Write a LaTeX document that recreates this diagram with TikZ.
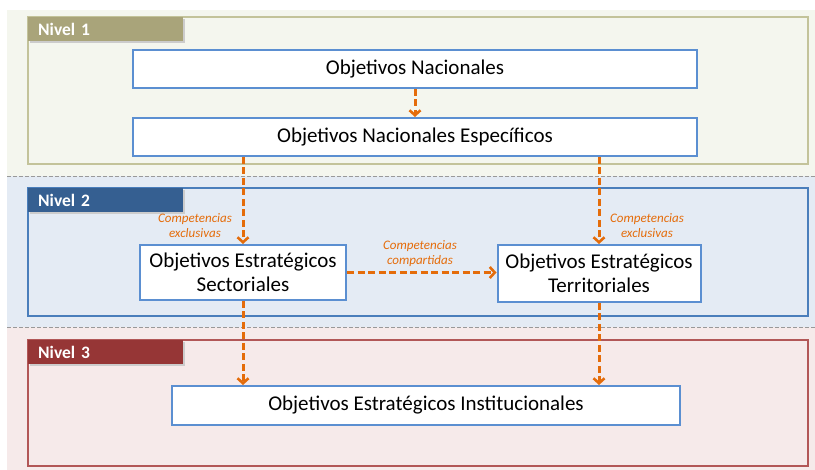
\documentclass[tikz,border=0pt]{standalone}
\usepackage{fontspec}
\setmainfont{Carlito}
\usetikzlibrary{arrows.meta}
\definecolor{bgone}{HTML}{F4F6EE}
\definecolor{bgtwo}{HTML}{E4EBF4}
\definecolor{bgthree}{HTML}{F6EAEA}
\definecolor{frone}{HTML}{C3C39A}
\definecolor{frtwo}{HTML}{4A7EBB}
\definecolor{frthree}{HTML}{B25757}
\definecolor{tabone}{HTML}{A9A47A}
\definecolor{tabtwo}{HTML}{355F91}
\definecolor{tabthree}{HTML}{963636}
\definecolor{boxblue}{HTML}{5B8FD1}
\definecolor{arrorange}{HTML}{E46C0A}
\tikzset{
  objbox/.style={draw=boxblue, line width=2pt, fill=white, font=\fontsize{21}{24}\selectfont, align=center, inner sep=0pt},
  tabbox/.style={anchor=north west, minimum width=155pt, minimum height=24pt, inner sep=0pt, text=white, font=\bfseries\fontsize{17.5}{19}\selectfont, text width=135pt, align=left},
  frame/.style={line width=1.4pt},
  flow/.style={draw=arrorange, line width=3pt, dash pattern=on 7pt off 3.5pt, -{Straight Barb[length=5pt,width=11pt,line width=2.6pt]}},
  comp/.style={text=arrorange, font=\itshape\fontsize{13}{15}\selectfont, align=center, inner sep=0pt},
  sep/.style={draw=gray!80, line width=0.8pt, dash pattern=on 4pt off 2pt}
}
\begin{document}
\begin{tikzpicture}[x=1pt,y=-1pt]
\useasboundingbox (0,0) rectangle (815,470);
\fill[white] (0,0) rectangle (815,470);
% bands
\fill[bgone] (7,10) rectangle (815,176);
\fill[bgtwo] (7,176) rectangle (815,327);
\fill[bgthree] (7,327) rectangle (815,470);
\draw[sep] (7,176) -- (815,176);
\draw[sep] (7,327) -- (815,327);
% frames
\draw[frame, draw=frone] (28,17) rectangle (808,164);
\draw[frame, draw=frtwo] (28,188) rectangle (808,316);
\draw[frame, draw=frthree] (28,340) rectangle (808,466);
% tabs
\fill[black!20] (30,19) rectangle (185,43);
\node[tabbox, fill=tabone] (t1) at (28,17) {Nivel 1};
\fill[black!20] (30,190) rectangle (185,214);
\node[tabbox, fill=tabtwo] (t2) at (28,188) {Nivel 2};
\fill[black!20] (30,342) rectangle (185,366);
\node[tabbox, fill=tabthree] (t3) at (28,340) {Nivel 3};
% boxes
\node[objbox, minimum width=564pt, minimum height=38pt] (on) at (415,69) {Objetivos Nacionales};
\node[objbox, minimum width=564pt, minimum height=38pt] (one) at (415,137) {Objetivos Nacionales Específicos};
\node[objbox, minimum width=206pt, minimum height=55pt] (sec) at (243,272.5) {Objetivos Estratégicos\\Sectoriales};
\node[objbox, minimum width=203pt, minimum height=57pt] (ter) at (599,273.5) {Objetivos Estratégicos\\Territoriales};
\node[objbox, minimum width=508pt, minimum height=39pt] (ins) at (426,405.5) {Objetivos Estratégicos Institucionales};
% arrows
\draw[flow] (on.south) -- (one.north);
\draw[flow] (one.south -| sec.north) -- (sec.north);
\draw[flow] (one.south -| ter.north) -- (ter.north);
\draw[flow] (sec.east) -- (ter.west |- sec.east);
\draw[flow] (sec.south) -- (sec.south |- ins.north);
\draw[flow] (ter.south) -- (ter.south |- ins.north);
% labels
\node[comp] (l1) at (195,226) {Competencias\\exclusivas};
\node[comp] (l2) at (647,226) {Competencias\\exclusivas};
\node[comp] (l3) at (420,254) {Competencias\\compartidas};
\end{tikzpicture}
\end{document}
